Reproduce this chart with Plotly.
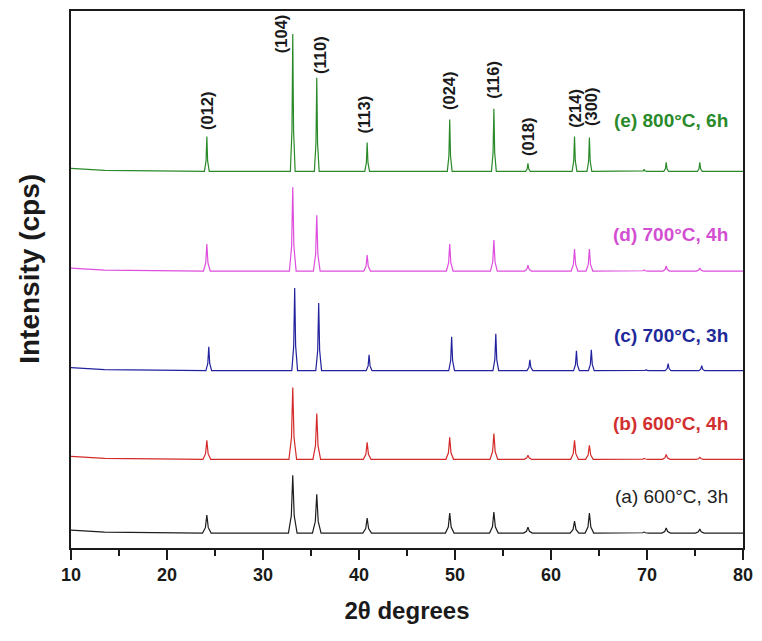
import plotly.graph_objects as go

# ---------------- data ----------------
PEAK_POS = [24.15, 33.1, 35.6, 40.85, 49.45, 54.05, 57.6, 62.45, 64.0, 69.7, 72.0, 75.5]

SERIES_NAMES = ["(a) 600°C, 3h", "(b) 600°C, 4h", "(c) 700°C, 3h", "(d) 700°C, 4h", "(e) 800°C, 6h"]
SERIES_BASE = [15, 89, 178, 278, 378]          # baseline level of each stacked pattern
SERIES_SHIFT = [0.0, 0.0, 0.2, 0.0, 0.0]        # small peak shift of pattern (c)

H_A = [18, 58, 39, 15, 20, 21, 6, 12, 20, 1, 5, 4]
H_B = [19, 72, 46, 17, 22, 26, 4, 19, 14, 1, 5, 2]
H_C = [24, 83, 68, 16, 34, 37, 11, 20, 21, 1, 7, 5]
H_D = [27, 84, 56, 16, 27, 31, 6, 22, 22, 1, 5, 3]
H_E = [35, 138, 94, 29, 52, 63, 8, 35, 34, 2, 9, 9]
SERIES_HEIGHTS = [H_A, H_B, H_C, H_D, H_E]

HKL_LABELS = ["(012)", "(104)", "(110)", "(113)", "(024)", "(116)", "(018)", "(214)", "(300)"]
HKL_X = [24.1, 31.9, 35.95, 40.5, 49.3, 53.95, 57.55, 62.5, 64.1]
HKL_Y = [439, 516, 495, 435, 459, 470, 413, 441, 443]

LABEL_Y = [52, 125, 213, 315, 429]

# ---------------- styles ----------------
LINE_COLORS = ["#1e1e1e", "#d42a2a", "#22229e", "#de4ede", "#2a8a2a"]
TEXT_COLORS = ["#222222", "#d23030", "#1f2a9a", "#d24fd2", "#2a8a2a"]
HALF_WIDTH = [0.45, 0.4, 0.3, 0.35, 0.25]


def pattern(base, heights, shift, hw):
    xs = [10.0, 13.5]
    ys = [base + 3, base + 1]
    for p, h in zip(PEAK_POS, heights):
        p = p + shift
        xs += [p - hw, p - hw / 3, p, p + hw / 3, p + hw]
        ys += [base, base + 0.3 * h, base + h, base + 0.3 * h, base]
    xs.append(80.0)
    ys.append(base)
    return xs, ys


fig = go.Figure()
for i, name in enumerate(SERIES_NAMES):
    xs, ys = pattern(SERIES_BASE[i], SERIES_HEIGHTS[i], SERIES_SHIFT[i], HALF_WIDTH[i])
    fig.add_trace(go.Scatter(x=xs, y=ys, mode="lines", name=name,
                             line=dict(color=LINE_COLORS[i], width=1.2),
                             showlegend=False, hoverinfo="skip"))

FONT = "Liberation Sans, Arial, sans-serif"
annotations = []
for i, name in enumerate(SERIES_NAMES):
    txt = name if i == 0 else f"<b>{name}</b>"
    annotations.append(dict(x=78.6, y=LABEL_Y[i], xref="x", yref="y", text=txt,
                            showarrow=False, xanchor="right", yanchor="middle",
                            font=dict(family=FONT, size=19, color=TEXT_COLORS[i])))
for lab, x, y in zip(HKL_LABELS, HKL_X, HKL_Y):
    annotations.append(dict(x=x, y=y, xref="x", yref="y", text=f"<b>{lab}</b>",
                            showarrow=False, textangle=-90, xanchor="center", yanchor="middle",
                            font=dict(family=FONT, size=16.5, color="#1a1a1a")))
# y-axis title
annotations.append(dict(x=0, y=0.52, xref="paper", yref="paper", xshift=-41,
                        text="<b>Intensity (cps)</b>", showarrow=False, textangle=-90,
                        xanchor="center", yanchor="middle",
                        font=dict(family=FONT, size=28, color="#1a1a1a")))

# The page body has an 8 px default margin; the figure is sized so that it fits the 762x641 window.
fig.update_layout(
    width=746, height=625, autosize=False,
    margin=dict(l=63, r=11, t=1, b=85),
    paper_bgcolor="white", plot_bgcolor="white",
    annotations=annotations,
    font=dict(family=FONT, color="#1a1a1a"),
)
fig.update_xaxes(range=[10, 80], dtick=10, tick0=10, ticks="outside", ticklen=10, tickwidth=1.5,
                 tickcolor="#1a1a1a", showline=True, linecolor="#1a1a1a", linewidth=1.5, mirror=True,
                 showgrid=False, zeroline=False,
                 minor=dict(dtick=5, tick0=10, ticks="outside", ticklen=6, tickwidth=1.5, tickcolor="#1a1a1a",
                            showgrid=False),
                 tickfont=dict(family=FONT, size=18, color="#1a1a1a", weight="bold"),
                 title=dict(text="<b>2θ degrees</b>", font=dict(family=FONT, size=24, color="#1a1a1a"),
                            standoff=18))
fig.update_yaxes(range=[0, 539], showticklabels=False, ticks="", showline=True, linecolor="#1a1a1a",
                 linewidth=1.5, mirror=True, showgrid=False, zeroline=False)

fig.write_html("out.html")
